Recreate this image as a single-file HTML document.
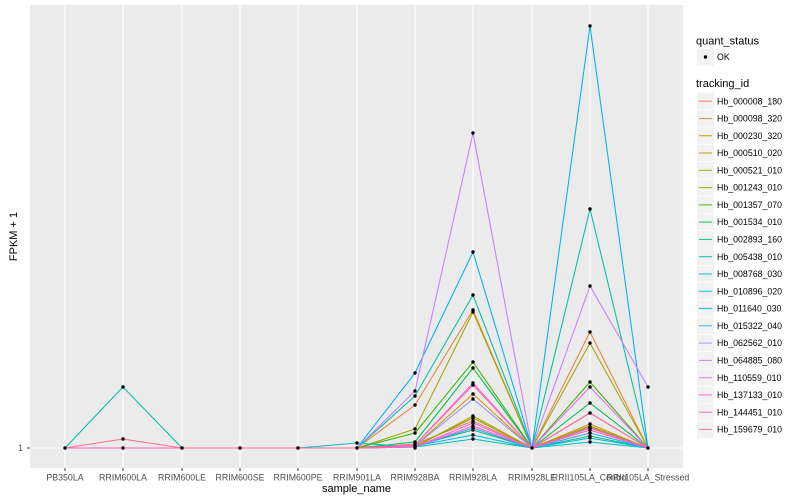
<!DOCTYPE html>
<html><head><meta charset="utf-8"><style>
html,body{margin:0;padding:0;background:#fff;}
svg{display:block;font-family:"Liberation Sans",Arial,sans-serif;}
</style></head><body>
<svg width="800" height="500" viewBox="0 0 800 500" xmlns="http://www.w3.org/2000/svg">
<rect x="0" y="0" width="800" height="500" fill="#fff"/>
<rect x="30" y="5" width="653" height="463" fill="#EBEBEB"/>
<g stroke="#fff" stroke-width="1.1">
<line x1="30" x2="683" y1="448" y2="448"/>
<line x1="65" x2="65" y1="5" y2="468"/>
<line x1="123" x2="123" y1="5" y2="468"/>
<line x1="182" x2="182" y1="5" y2="468"/>
<line x1="240" x2="240" y1="5" y2="468"/>
<line x1="298" x2="298" y1="5" y2="468"/>
<line x1="357" x2="357" y1="5" y2="468"/>
<line x1="415" x2="415" y1="5" y2="468"/>
<line x1="473" x2="473" y1="5" y2="468"/>
<line x1="532" x2="532" y1="5" y2="468"/>
<line x1="590" x2="590" y1="5" y2="468"/>
<line x1="648" x2="648" y1="5" y2="468"/>
</g>
<g fill="none" stroke-width="1.05" stroke-linejoin="round">
<polyline stroke="#F8766D" points="65,448 123,448 182,448 240,448 298,448 357,448 415,444 473,421 532,448 590,427 648,448"/>
<polyline stroke="#EA8331" points="65,448 123,448 182,448 240,448 298,448 357,448 415,405 473,310 532,448 590,332 648,448"/>
<polyline stroke="#D89000" points="65,448 123,448 182,448 240,448 298,448 357,448 415,446 473,394 532,448 590,424 648,448"/>
<polyline stroke="#C09B00" points="65,448 123,448 182,448 240,448 298,448 357,448 415,447 473,416 532,448 590,428 648,448"/>
<polyline stroke="#A3A500" points="65,448 123,448 182,448 240,448 298,448 357,448 415,429 473,312 532,448 590,343 648,448"/>
<polyline stroke="#7CAE00" points="65,448 123,448 182,448 240,448 298,448 357,448 415,446 473,418 532,448 590,426 648,448"/>
<polyline stroke="#39B600" points="65,448 123,448 182,448 240,448 298,448 357,448 415,433 473,362 532,448 590,382 648,448"/>
<polyline stroke="#00BB4E" points="65,448 123,448 182,448 240,448 298,448 357,448 415,442 473,368 532,448 590,403 648,448"/>
<polyline stroke="#00BF7D" points="65,448 123,448 182,448 240,448 298,448 357,448 415,446 473,430 532,448 590,436 648,448"/>
<polyline stroke="#00C1A3" points="65,448 123,387 182,448 240,448 298,448 357,448 415,396 473,295 532,448 590,209 648,448"/>
<polyline stroke="#00BFC4" points="65,448 123,448 182,448 240,448 298,448 357,443 415,447 473,439 532,448 590,442 648,448"/>
<polyline stroke="#00BAE0" points="65,448 123,448 182,448 240,448 298,448 357,448 415,446 473,435 532,448 590,438 648,448"/>
<polyline stroke="#00B0F6" points="65,448 123,448 182,448 240,448 298,448 357,448 415,373 473,252 532,448 590,26 648,448"/>
<polyline stroke="#35A2FF" points="65,448 123,448 182,448 240,448 298,448 357,448 415,447 473,428 532,448 590,433 648,448"/>
<polyline stroke="#9590FF" points="65,448 123,448 182,448 240,448 298,448 357,448 415,446 473,399 532,448 590,413 648,448"/>
<polyline stroke="#C77CFF" points="65,448 123,448 182,448 240,448 298,448 357,448 415,391 473,133 532,448 590,286 648,387"/>
<polyline stroke="#E76BF3" points="65,448 123,448 182,448 240,448 298,448 357,448 415,445 473,383 532,448 590,387 648,448"/>
<polyline stroke="#FA62DB" points="65,448 123,448 182,448 240,448 298,448 357,448 415,447 473,423 532,448 590,428 648,448"/>
<polyline stroke="#FF62BC" points="65,448 123,448 182,448 240,448 298,448 357,448 415,447 473,426 532,448 590,430 648,448"/>
<polyline stroke="#FF6C91" points="65,448 123,439 182,448 240,448 298,448 357,448 415,445 473,385 532,448 590,413 648,448"/>
</g>
<g fill="#000">
<circle cx="65" cy="448" r="1.7"/><circle cx="123" cy="448" r="1.7"/><circle cx="182" cy="448" r="1.7"/><circle cx="240" cy="448" r="1.7"/><circle cx="298" cy="448" r="1.7"/><circle cx="357" cy="448" r="1.7"/><circle cx="532" cy="448" r="1.7"/><circle cx="648" cy="448" r="1.7"/>
<circle cx="123" cy="387" r="1.7"/><circle cx="123" cy="439" r="1.7"/><circle cx="357" cy="443" r="1.7"/>
<circle cx="415" cy="373" r="1.7"/><circle cx="415" cy="391" r="1.7"/><circle cx="415" cy="396" r="1.7"/><circle cx="415" cy="405" r="1.7"/><circle cx="415" cy="429" r="1.7"/><circle cx="415" cy="433" r="1.7"/><circle cx="415" cy="442" r="1.7"/><circle cx="415" cy="444" r="1.7"/><circle cx="415" cy="446" r="1.7"/><circle cx="415" cy="447" r="1.7"/><circle cx="415" cy="448" r="1.7"/>
<circle cx="473" cy="133" r="1.7"/><circle cx="473" cy="252" r="1.7"/><circle cx="473" cy="295" r="1.7"/><circle cx="473" cy="310" r="1.7"/><circle cx="473" cy="312" r="1.7"/><circle cx="473" cy="362" r="1.7"/><circle cx="473" cy="368" r="1.7"/><circle cx="473" cy="383" r="1.7"/><circle cx="473" cy="385" r="1.7"/><circle cx="473" cy="394" r="1.7"/><circle cx="473" cy="399" r="1.7"/><circle cx="473" cy="416" r="1.7"/><circle cx="473" cy="418" r="1.7"/><circle cx="473" cy="421" r="1.7"/><circle cx="473" cy="423" r="1.7"/><circle cx="473" cy="426" r="1.7"/><circle cx="473" cy="428" r="1.7"/><circle cx="473" cy="430" r="1.7"/><circle cx="473" cy="435" r="1.7"/><circle cx="473" cy="439" r="1.7"/>
<circle cx="590" cy="26" r="1.7"/><circle cx="590" cy="209" r="1.7"/><circle cx="590" cy="286" r="1.7"/><circle cx="590" cy="332" r="1.7"/><circle cx="590" cy="343" r="1.7"/><circle cx="590" cy="382" r="1.7"/><circle cx="590" cy="387" r="1.7"/><circle cx="590" cy="403" r="1.7"/><circle cx="590" cy="413" r="1.7"/><circle cx="590" cy="424" r="1.7"/><circle cx="590" cy="427" r="1.7"/><circle cx="590" cy="428" r="1.7"/><circle cx="590" cy="430" r="1.7"/><circle cx="590" cy="433" r="1.7"/><circle cx="590" cy="436" r="1.7"/><circle cx="590" cy="438" r="1.7"/><circle cx="590" cy="442" r="1.7"/>
<circle cx="648" cy="387" r="1.7"/>
</g>
<!-- axes ticks -->
<g stroke="#333" stroke-width="1">
<line x1="27" x2="30" y1="448" y2="448"/>
<line x1="65" x2="65" y1="468" y2="471"/><line x1="123" x2="123" y1="468" y2="471"/><line x1="182" x2="182" y1="468" y2="471"/><line x1="240" x2="240" y1="468" y2="471"/><line x1="298" x2="298" y1="468" y2="471"/><line x1="357" x2="357" y1="468" y2="471"/><line x1="415" x2="415" y1="468" y2="471"/><line x1="473" x2="473" y1="468" y2="471"/><line x1="532" x2="532" y1="468" y2="471"/><line x1="590" x2="590" y1="468" y2="471"/><line x1="648" x2="648" y1="468" y2="471"/>
</g>
<g fill="#4D4D4D" font-size="8.8" text-anchor="middle">
<text x="23" y="451" text-anchor="end">1</text>
<text x="65" y="480.5">PB350LA</text>
<text x="123" y="480.5">RRIM600LA</text>
<text x="182" y="480.5">RRIM600LE</text>
<text x="240" y="480.5">RRIM600SE</text>
<text x="298" y="480.5">RRIM600PE</text>
<text x="357" y="480.5">RRIM901LA</text>
<text x="415" y="480.5">RRIM928BA</text>
<text x="473" y="480.5">RRIM928LA</text>
<text x="532" y="480.5">RRIM928LE</text>
<text x="590" y="480.5">RRII105LA_Control</text>
<text x="648" y="480.5">RRII105LA_Stressed</text>
</g>
<text x="356.5" y="492" font-size="11" text-anchor="middle" fill="#000">sample_name</text>
<text transform="translate(17,236.5) rotate(-90)" font-size="11" text-anchor="middle" fill="#000">FPKM + 1</text>
<!-- legend -->
<text x="696" y="44.5" font-size="11" fill="#000">quant_status</text>
<rect x="697" y="48.5" width="17" height="17" fill="#F2F2F2"/>
<circle cx="705.5" cy="57" r="1.7" fill="#000"/>
<text x="717" y="60" font-size="8.8" fill="#000">OK</text>
<text x="696" y="87" font-size="11" fill="#000">tracking_id</text>
<g font-size="8.8" fill="#000">
<rect x="697" y="92.5" width="17" height="345.6" fill="#F2F2F2"/>
<g stroke="#fff" stroke-width="0.6">
<line x1="697" x2="714" y1="109.8" y2="109.8"/><line x1="697" x2="714" y1="127.1" y2="127.1"/><line x1="697" x2="714" y1="144.3" y2="144.3"/><line x1="697" x2="714" y1="161.6" y2="161.6"/><line x1="697" x2="714" y1="178.9" y2="178.9"/><line x1="697" x2="714" y1="196.2" y2="196.2"/><line x1="697" x2="714" y1="213.5" y2="213.5"/><line x1="697" x2="714" y1="230.7" y2="230.7"/><line x1="697" x2="714" y1="248" y2="248"/><line x1="697" x2="714" y1="265.3" y2="265.3"/><line x1="697" x2="714" y1="282.6" y2="282.6"/><line x1="697" x2="714" y1="299.9" y2="299.9"/><line x1="697" x2="714" y1="317.1" y2="317.1"/><line x1="697" x2="714" y1="334.4" y2="334.4"/><line x1="697" x2="714" y1="351.7" y2="351.7"/><line x1="697" x2="714" y1="369" y2="369"/><line x1="697" x2="714" y1="386.3" y2="386.3"/><line x1="697" x2="714" y1="403.5" y2="403.5"/><line x1="697" x2="714" y1="420.8" y2="420.8"/>
</g>
<g stroke-width="1.1" opacity="0.85">
<line x1="699" x2="712" y1="101.2" y2="101.2" stroke="#F8766D"/>
<line x1="699" x2="712" y1="118.5" y2="118.5" stroke="#EA8331"/>
<line x1="699" x2="712" y1="135.7" y2="135.7" stroke="#D89000"/>
<line x1="699" x2="712" y1="153" y2="153" stroke="#C09B00"/>
<line x1="699" x2="712" y1="170.3" y2="170.3" stroke="#A3A500"/>
<line x1="699" x2="712" y1="187.6" y2="187.6" stroke="#7CAE00"/>
<line x1="699" x2="712" y1="204.9" y2="204.9" stroke="#39B600"/>
<line x1="699" x2="712" y1="222.1" y2="222.1" stroke="#00BB4E"/>
<line x1="699" x2="712" y1="239.4" y2="239.4" stroke="#00BF7D"/>
<line x1="699" x2="712" y1="256.7" y2="256.7" stroke="#00C1A3"/>
<line x1="699" x2="712" y1="274" y2="274" stroke="#00BFC4"/>
<line x1="699" x2="712" y1="291.3" y2="291.3" stroke="#00BAE0"/>
<line x1="699" x2="712" y1="308.5" y2="308.5" stroke="#00B0F6"/>
<line x1="699" x2="712" y1="325.8" y2="325.8" stroke="#35A2FF"/>
<line x1="699" x2="712" y1="343.1" y2="343.1" stroke="#9590FF"/>
<line x1="699" x2="712" y1="360.4" y2="360.4" stroke="#C77CFF"/>
<line x1="699" x2="712" y1="377.7" y2="377.7" stroke="#E76BF3"/>
<line x1="699" x2="712" y1="394.9" y2="394.9" stroke="#FA62DB"/>
<line x1="699" x2="712" y1="412.2" y2="412.2" stroke="#FF62BC"/>
<line x1="699" x2="712" y1="429.5" y2="429.5" stroke="#FF6C91"/>
</g>
<text x="717" y="104.3">Hb_000008_180</text>
<text x="717" y="121.6">Hb_000098_320</text>
<text x="717" y="138.8">Hb_000230_320</text>
<text x="717" y="156.1">Hb_000510_020</text>
<text x="717" y="173.4">Hb_000521_010</text>
<text x="717" y="190.7">Hb_001243_010</text>
<text x="717" y="208">Hb_001357_070</text>
<text x="717" y="225.2">Hb_001534_010</text>
<text x="717" y="242.5">Hb_002893_160</text>
<text x="717" y="259.8">Hb_005438_010</text>
<text x="717" y="277.1">Hb_008768_030</text>
<text x="717" y="294.4">Hb_010896_020</text>
<text x="717" y="311.6">Hb_011640_030</text>
<text x="717" y="328.9">Hb_015322_040</text>
<text x="717" y="346.2">Hb_062562_010</text>
<text x="717" y="363.5">Hb_064885_080</text>
<text x="717" y="380.8">Hb_110559_010</text>
<text x="717" y="398">Hb_137133_010</text>
<text x="717" y="415.3">Hb_144451_010</text>
<text x="717" y="432.6">Hb_159679_010</text>
</g>
</svg>
</body></html>
